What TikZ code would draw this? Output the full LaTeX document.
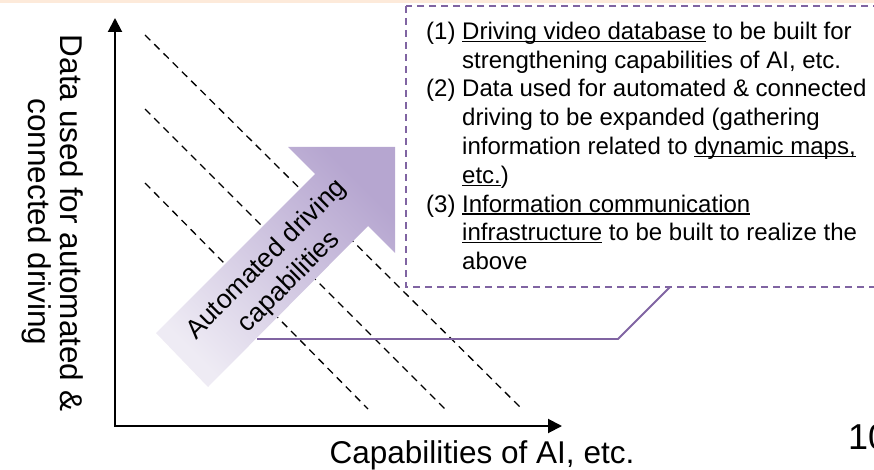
\documentclass[tikz,border=0pt]{standalone}
\usepackage{fontspec}
\setmainfont{Liberation Sans}
\usetikzlibrary{arrows.meta}
\definecolor{peach}{HTML}{FDEADA}
\definecolor{vio}{HTML}{8064A2}
\definecolor{arrlight}{HTML}{EEEBF4}
\definecolor{arrdark}{HTML}{B6A6D0}
\newcommand\myul[1]{\setbox0\hbox{#1}\rlap{\rule[-2.6pt]{\wd0}{1.1pt}}\box0\relax}
\begin{document}
\begin{tikzpicture}[x=1pt,y=-1pt,
  diag/.style={black, line width=1.3pt, dash pattern=on 7.5pt off 5.5pt},
  boxtxt/.style={anchor=base west, inner sep=0pt, font=\fontsize{24}{28}\selectfont},
  axlabel/.style={anchor=base, inner sep=0pt, font=\fontsize{31.5}{34}\selectfont},
  violine/.style={vio, line width=1.8pt},
  viobox/.style={vio, line width=1.5pt, dash pattern=on 7pt off 5pt},
  axisline/.style={line width=2pt, {Triangle[length=14pt,width=14pt]}-{Triangle[length=14pt,width=14pt]}}]
\useasboundingbox (0,0) rectangle (874,470);
\clip (0,0) rectangle (874,470);
% top band
\fill[peach] (0,0) rectangle (874,3.5);
% dashed diagonals
\coordinate (d1a) at (145,35);  \coordinate (d1b) at (522,409);
\coordinate (d2a) at (145,109); \coordinate (d2b) at (445,409);
\coordinate (d3a) at (145,183); \coordinate (d3b) at (368,409);
\draw[diag] (d1a) -- (d1b);
\draw[diag] (d2a) -- (d2b);
\draw[diag] (d3a) -- (d3b);
% big arrow
\coordinate (a1) at (156,333);
\coordinate (a2) at (315,174);
\coordinate (a3) at (288,147);
\coordinate (a4) at (395,147);
\coordinate (a5) at (395,253);
\coordinate (a6) at (368,226);
\coordinate (a7) at (208,387);
\shade[bottom color=arrlight, top color=arrdark, shading angle=-45]
  (a1) -- (a2) -- (a3) -- (a4) -- (a5) -- (a6) -- (a7) -- cycle;
\node[rotate=45, align=center, inner sep=0pt, font=\fontsize{26.5}{32}\selectfont] (arrtxt) at (278,271) {Automated driving\\capabilities};
% connector
\coordinate (c1) at (257,339);
\coordinate (c2) at (618,339);
\coordinate (c3) at (670,287);
\draw[violine] (c1) -- (c2) -- (c3);
% dashed box
\coordinate (bx1) at (406,6);
\coordinate (bx2) at (890,287);
\draw[viobox] (bx1) rectangle (bx2);
% box text
\node[boxtxt] (t1) at (426,39.5) {(1) \myul{Driving video database} to be built for};
\node[boxtxt] (t2) at (462,68.25) {strengthening capabilities of AI, etc.};
\node[boxtxt] (t3) at (426,97) {(2) Data used for automated \& connected};
\node[boxtxt] (t4) at (462,125.75) {driving to be expanded (gathering};
\node[boxtxt] (t5) at (462,154.5) {information related to \myul{dynamic maps,}};
\node[boxtxt] (t6) at (462,183.25) {\myul{etc.})};
\node[boxtxt] (t7) at (426,212) {(3) \myul{Information communication}};
\node[boxtxt] (t8) at (462,240.75) {\myul{infrastructure} to be built to realize the};
\node[boxtxt] (t9) at (462,269.5) {above};
% axes
\coordinate (ytip) at (115,18);
\coordinate (xtip) at (562,426);
\draw[axisline] (ytip) |- (xtip);
% axis labels
\node[axlabel] (xlab) at (482,463) {Capabilities of AI, etc.};
\node[axlabel, rotate=-90] (ylab1) at (60,223) {Data used for automated \&};
\node[axlabel, rotate=-90] (ylab2) at (28,222) {connected driving};
% page number
\node[anchor=base west, inner sep=0pt, font=\fontsize{36}{40}\selectfont] (pnum) at (848,449) {10};
\end{tikzpicture}
\end{document}
